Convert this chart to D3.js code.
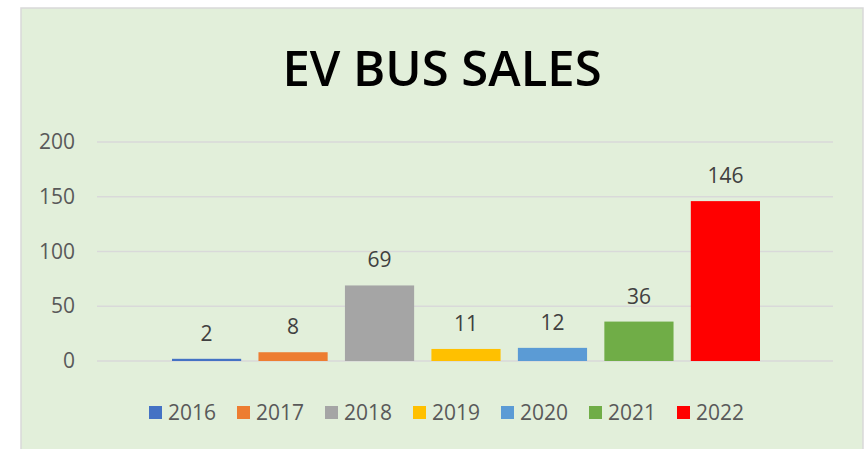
<!DOCTYPE html>
<html>
<head>
<meta charset="utf-8">
<script src="https://cdn.jsdelivr.net/npm/d3@7"></script>
<style>
  body { margin: 0; background: #fff; }
  svg { display: block; }
</style>
</head>
<body>
<svg width="868" height="449"></svg>
<script>
// data
var years = ['2016', '2017', '2018', '2019', '2020', '2021', '2022'];
var sales = [2, 8, 69, 11, 12, 36, 146];
var colors = ['#4472C4', '#ED7D31', '#A5A5A5', '#FFC000', '#5B9BD5', '#70AD47', '#FF0000'];
var yTicks = [0, 50, 100, 150, 200];

var font = '"Open Sans", Lato, sans-serif';
var svg = d3.select('svg');

// chart frame
svg.append('rect')
    .attr('x', 21).attr('y', 8)
    .attr('width', 842).attr('height', 445)
    .attr('fill', '#E2EFDA')
    .attr('stroke', '#d9d9d9')
    .attr('stroke-width', 1.5);

svg.append('text')
    .attr('x', 442)
    .attr('y', 86)
    .attr('text-anchor', 'middle')
    .attr('font-family', font)
    .attr('font-weight', 600)
    .attr('font-size', 49)
    .attr('fill', '#000')
    .text('EV BUS SALES');

var scaleY = d3.scaleLinear().domain([0, 200]).range([361, 142]);
var scaleX = d3.scaleBand().domain(years).range([172, 760]).paddingInner(0.2);

// grid
svg.append('g')
    .selectAll('line')
    .data(yTicks)
    .enter()
    .append('line')
    .attr('x1', 97).attr('x2', 833)
    .attr('y1', function (d) { return scaleY(d); })
    .attr('y2', function (d) { return scaleY(d); })
    .attr('stroke', '#d9d9d9')
    .attr('stroke-width', 1.5);

var yAxis = svg.append('g')
    .attr('transform', 'translate(97,0)')
    .call(d3.axisLeft(scaleY).tickValues(yTicks).tickSize(0).tickPadding(22));
yAxis.select('.domain').remove();
yAxis.selectAll('text')
    .attr('font-family', font)
    .attr('font-size', 21)
    .attr('fill', '#595959');

// bars
svg.selectAll('.bar')
    .data(sales)
    .enter()
    .append('rect')
    .attr('class', 'bar')
    .attr('x', function (d, i) { return scaleX(years[i]); })
    .attr('width', scaleX.bandwidth())
    .attr('y', function (d) { return scaleY(d); })
    .attr('height', function (d) { return scaleY(0) - scaleY(d); })
    .attr('fill', function (d, i) { return colors[i]; });

svg.selectAll('.lbl')
    .data(sales)
    .enter()
    .append('text')
    .attr('class', 'lbl')
    .attr('x', function (d, i) { return scaleX(years[i]) + scaleX.bandwidth() / 2; })
    .attr('y', function (d) { return scaleY(d) - 18; })
    .attr('text-anchor', 'middle')
    .attr('font-family', font)
    .attr('font-size', 21)
    .attr('fill', '#404040')
    .text(function (d) { return d; });

// legend
var legend = svg.append('g')
    .selectAll('g')
    .data(years)
    .enter()
    .append('g')
    .attr('transform', function (d, i) { return 'translate(' + (149 + i * 88) + ',406)'; });

legend.append('rect')
    .attr('width', 13).attr('height', 13)
    .attr('fill', function (d, i) { return colors[i]; });

legend.append('text')
    .attr('x', 19)
    .attr('y', 14)
    .attr('font-family', font)
    .attr('font-size', 21)
    .attr('fill', '#595959')
    .text(function (d) { return d; });
</script>
</body>
</html>
